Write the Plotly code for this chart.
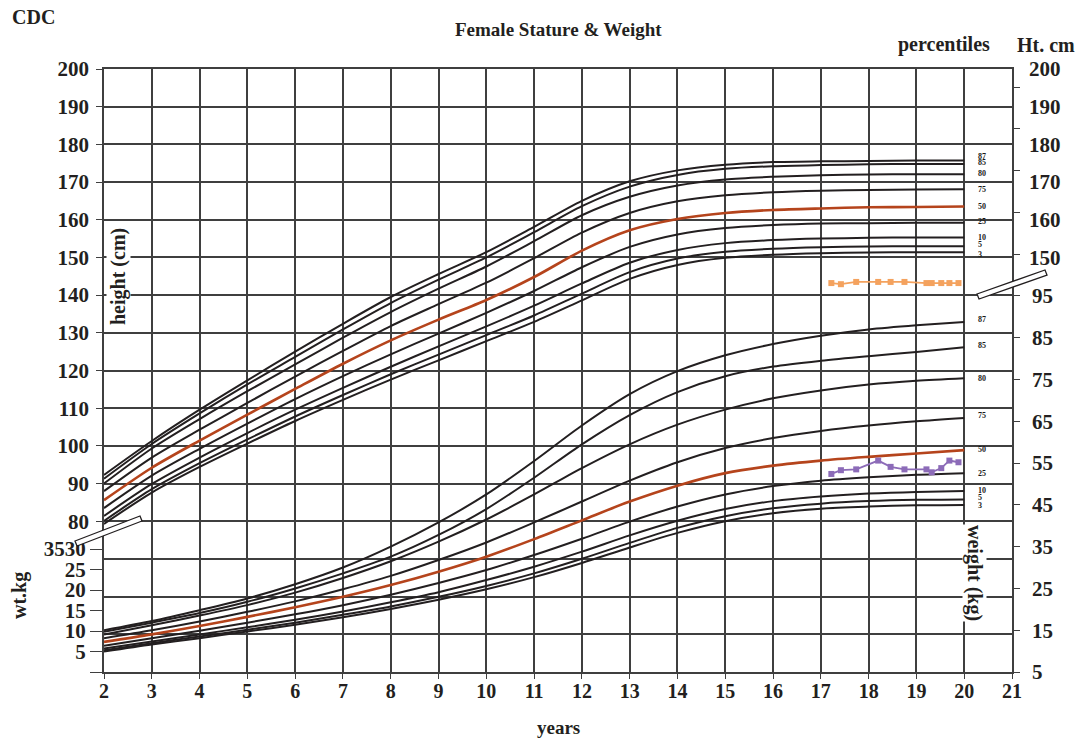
import plotly.graph_objects as go

# ---------------- data ----------------
AGES = list(range(2, 21))
PCT_LABELS = ["87", "85", "80", "75", "50", "25", "10", "5", "3"]

# stature (cm) percentile curves, ages 2..20
H87 = [92.3, 101.3, 109.6, 117.4, 125.0, 132.4, 139.5, 145.6, 151.4, 158.1, 165.0, 170.2, 173.1, 174.6, 175.3, 175.5, 175.6, 175.7, 175.7]
H85 = [91.3, 100.5, 108.6, 116.3, 123.6, 130.9, 137.9, 144.1, 150.0, 156.7, 163.6, 168.8, 171.9, 173.5, 174.2, 174.5, 174.7, 174.8, 174.8]
H80 = [90.0, 99.3, 107.1, 114.5, 121.6, 128.7, 135.5, 141.7, 147.6, 154.3, 161.2, 166.1, 169.1, 170.7, 171.4, 171.8, 172.0, 172.1, 172.1]
H75 = [88.0, 96.9, 104.3, 111.4, 118.4, 125.2, 131.8, 137.6, 143.3, 149.8, 156.6, 161.8, 164.9, 166.5, 167.3, 167.7, 167.9, 168.0, 168.1]
H50 = [85.6, 94.2, 101.4, 108.3, 115.1, 121.8, 128.0, 133.5, 138.7, 144.8, 151.8, 157.2, 160.2, 161.8, 162.6, 163.0, 163.3, 163.4, 163.5]
H25 = [83.5, 92.1, 99.2, 105.9, 112.4, 118.5, 124.3, 129.8, 135.3, 141.1, 147.4, 152.8, 156.1, 157.8, 158.6, 159.0, 159.1, 159.2, 159.2]
H10 = [81.4, 89.9, 96.9, 103.4, 109.6, 115.4, 121.0, 126.4, 131.7, 137.2, 143.1, 148.6, 152.0, 153.8, 154.6, 155.0, 155.2, 155.3, 155.3]
H5 = [80.1, 88.5, 95.4, 101.7, 107.8, 113.5, 119.0, 124.2, 129.4, 134.6, 140.4, 146.1, 149.7, 151.5, 152.3, 152.7, 152.9, 153.0, 153.0]
H3 = [79.3, 87.6, 94.4, 100.6, 106.6, 112.2, 117.6, 122.7, 127.8, 132.9, 138.6, 144.3, 148.0, 149.9, 150.7, 151.1, 151.3, 151.4, 151.4]

# weight (kg) percentile curves, ages 2..20
W87 = [15.0, 17.2, 19.8, 22.6, 26.0, 30.0, 35.0, 40.8, 47.5, 55.5, 64.0, 71.5, 77.0, 80.8, 83.5, 85.5, 87.0, 88.0, 88.8]
W85 = [14.6, 16.8, 19.1, 21.8, 25.0, 28.6, 32.6, 37.8, 44.0, 51.5, 59.5, 66.5, 72.0, 75.8, 78.1, 79.5, 80.6, 81.6, 82.7]
W80 = [14.0, 16.2, 18.5, 21.0, 24.0, 27.5, 31.5, 36.2, 41.5, 47.5, 53.8, 59.5, 64.2, 67.8, 70.5, 72.4, 73.8, 74.7, 75.3]
W75 = [13.1, 15.0, 17.1, 19.4, 21.9, 24.8, 28.0, 31.8, 36.0, 40.8, 45.8, 50.8, 55.2, 58.6, 61.0, 62.7, 64.0, 65.0, 65.8]
W50 = [12.2, 14.0, 16.0, 18.2, 20.5, 23.0, 25.8, 29.0, 32.6, 36.8, 41.3, 45.8, 49.6, 52.6, 54.4, 55.6, 56.5, 57.3, 58.1]
W25 = [11.3, 13.1, 14.9, 16.8, 18.8, 21.0, 23.5, 26.3, 29.4, 33.0, 36.9, 41.0, 44.6, 47.5, 49.5, 50.8, 51.6, 52.2, 52.6]
W10 = [10.6, 12.3, 14.0, 15.7, 17.5, 19.5, 21.7, 24.1, 27.0, 30.2, 33.8, 37.7, 41.2, 44.0, 45.9, 47.0, 47.7, 48.1, 48.3]
W5 = [10.2, 11.9, 13.5, 15.1, 16.8, 18.7, 20.7, 23.0, 25.6, 28.6, 32.1, 35.9, 39.5, 42.3, 44.2, 45.3, 45.9, 46.2, 46.3]
W3 = [9.9, 11.6, 13.1, 14.7, 16.3, 18.1, 20.1, 22.3, 24.8, 27.7, 31.1, 34.8, 38.3, 41.1, 43.0, 44.1, 44.6, 44.9, 45.0]

# patient measurements
VISIT_AGES = [17.22, 17.42, 17.74, 18.20, 18.46, 18.75, 19.21, 19.32, 19.52, 19.69, 19.88]
VISIT_HEIGHT = [143.2, 142.9, 143.5, 143.5, 143.5, 143.5, 143.2, 143.2, 143.2, 143.2, 143.2]
VISIT_WEIGHT = [52.4, 53.3, 53.5, 55.6, 54.1, 53.5, 53.5, 52.8, 53.8, 55.6, 55.2]

# axis ticks
X_TICKS = list(range(2, 22))
H_TICKS_LEFT = list(range(80, 201, 10))
H_TICKS_RIGHT = list(range(150, 201, 10))
W_TICKS_RIGHT = list(range(5, 146, 10))
W_TICKS_LEFT = [0, 5, 10, 15, 20, 25, 30]
W_TICKTEXT_LEFT = ["", "5", "10", "15", "20", "25", "3530"]
GRID_TICKS = list(range(40, 201, 10))

HEIGHT_CURVES = [H87, H85, H80, H75, H50, H25, H10, H5, H3]
WEIGHT_CURVES = [W87, W85, W80, W75, W50, W25, W10, W5, W3]
H_LABEL_SHIFT = [4, 1, 1, 0, 0, 1, 0, 2, -2]
W_LABEL_SHIFT = [2, 2, 0, 2, 1, 0, 1, 2, -1]

# ---------------- style ----------------
INK = "#231f20"
GRID = "#3f3f3f"
RUST = "#b5441c"
SERIF = "Liberation Serif"
L, R, T, B = 104, 69, 69, 67
W, H = 1081, 739
PW, PH = W - L - R, H - T - B


def px(x):
    return (x - L) / PW


def py(y):
    return (H - B - y) / PH


fig = go.Figure()

for lab, ys in zip(PCT_LABELS, HEIGHT_CURVES):
    fig.add_trace(go.Scatter(
        x=AGES, y=ys, mode="lines", yaxis="y",
        line=dict(color=RUST if lab == "50" else INK, width=2.6 if lab == "50" else 2,
                  shape="spline", smoothing=0.8),
        hoverinfo="skip", showlegend=False))

for lab, ys in zip(PCT_LABELS, WEIGHT_CURVES):
    fig.add_trace(go.Scatter(
        x=AGES, y=ys, mode="lines", yaxis="y2",
        line=dict(color=RUST if lab == "50" else INK, width=2.6 if lab == "50" else 2,
                  shape="spline", smoothing=0.8),
        hoverinfo="skip", showlegend=False))

fig.add_trace(go.Scatter(
    x=VISIT_AGES, y=VISIT_HEIGHT, mode="lines+markers", yaxis="y",
    line=dict(color="#f4a25e", width=1.8),
    marker=dict(symbol="square", size=6, color="#f4a25e"),
    showlegend=False))
fig.add_trace(go.Scatter(
    x=VISIT_AGES, y=VISIT_WEIGHT, mode="lines+markers", yaxis="y2",
    line=dict(color="#8c6bb8", width=1.8),
    marker=dict(symbol="square", size=6, color="#8c6bb8"),
    showlegend=False))

# invisible anchors for label-only axes
for ax, yv in (("y3", 150), ("y4", 10), ("y5", 100)):
    fig.add_trace(go.Scatter(x=[2], y=[yv], yaxis=ax, mode="markers",
                             marker=dict(opacity=0), hoverinfo="skip", showlegend=False))

tickfont = dict(family=SERIF, size=21, color=INK, weight="bold")

fig.update_layout(
    width=W, height=H,
    margin=dict(l=L, r=R, t=T, b=B),
    paper_bgcolor="white", plot_bgcolor="white",
    xaxis=dict(range=[2, 21], tickvals=X_TICKS, showgrid=True, gridcolor=GRID, gridwidth=1.6,
               zeroline=False, showline=True, linecolor=GRID, linewidth=1.6, mirror=True,
               ticks="outside", ticklen=5, tickcolor=GRID, tickwidth=1.4,
               tickfont=dict(family=SERIF, size=20, color=INK, weight="bold"),
               ticklabelstandoff=-5),
    yaxis=dict(range=[40, 200], tickvals=H_TICKS_LEFT, showgrid=False, zeroline=False,
               showline=True, linecolor=GRID, linewidth=1.6,
               ticks="outside", ticklen=6, tickcolor=GRID, tickwidth=1.4,
               tickfont=tickfont, ticklabelstandoff=3),
    yaxis2=dict(range=[5, 5 + 603 / 4.178], overlaying="y", side="right",
                tickvals=W_TICKS_RIGHT,
                ticktext=[str(v) if v <= 95 else "" for v in W_TICKS_RIGHT],
                showgrid=False, zeroline=False, showline=True, linecolor=GRID, linewidth=1.6,
                ticks="outside", ticklen=6, tickcolor=GRID, tickwidth=1.4,
                tickfont=tickfont, ticklabelstandoff=8),
    yaxis3=dict(range=[40, 200], overlaying="y", side="right", tickvals=H_TICKS_RIGHT,
                showgrid=False, zeroline=False, showline=False, ticks="",
                tickfont=tickfont, ticklabelstandoff=16),
    yaxis4=dict(range=[0, 603 / 4.1], overlaying="y", side="left", tickvals=W_TICKS_LEFT,
                ticktext=W_TICKTEXT_LEFT, showgrid=False, zeroline=False, showline=False,
                ticks="outside", ticklen=13, tickcolor=GRID, tickwidth=1.4,
                tickfont=tickfont, ticklabelstandoff=0),
    yaxis5=dict(range=[40, 200], overlaying="y", side="left", tickvals=GRID_TICKS,
                showticklabels=False, showgrid=True, gridcolor=GRID, gridwidth=1.6,
                zeroline=False, showline=False, ticks=""),
)

ann = []
txt = dict(family=SERIF, size=20, color=INK, weight="bold")


def label(text, x, y, font=txt, **kw):
    d = dict(text=text, x=px(x), y=py(y), xref="paper", yref="paper", showarrow=False,
             xanchor="center", yanchor="middle", font=font)
    d.update(kw)
    ann.append(d)


label("CDC", 33, 17)
label("Female Stature &amp; Weight", 558, 30, font=dict(txt, size=19))
label("percentiles", 944, 45)
label("Ht. cm", 1046, 45)
label("years", 558, 727, font=dict(txt, size=19))
label("wt.kg", 19, 596, textangle=-90)
label("height (cm)", 118, 277, textangle=-90, bgcolor="white", borderpad=0)
label("weight (kg)", 975, 573, textangle=90, bgcolor="white", borderpad=0)

small = dict(family=SERIF, size=8, color="#1a1a1a", weight="bold")
for lab, ys, sh in zip(PCT_LABELS, HEIGHT_CURVES, H_LABEL_SHIFT):
    ann.append(dict(text=lab, x=20, y=ys[-1], xref="x", yref="y", xanchor="left", yanchor="middle",
                    xshift=13, yshift=sh, showarrow=False, font=small, borderpad=0))
for lab, ys, sh in zip(PCT_LABELS, WEIGHT_CURVES, W_LABEL_SHIFT):
    ann.append(dict(text=lab, x=20, y=ys[-1], xref="x", yref="y2", xanchor="left", yanchor="middle",
                    xshift=13, yshift=sh, showarrow=False, font=small, borderpad=0))
fig.update_layout(annotations=ann)


def brk(pts):
    d = "M " + " L ".join(f"{px(a):.5f},{py(b):.5f}" for a, b in pts) + " Z"
    return dict(type="path", path=d, xref="paper", yref="paper", fillcolor="white",
                line=dict(color=INK, width=1.3), layer="above")


fig.update_layout(shapes=[
    brk([(75, 541), (140, 516), (142, 521), (77, 546)]),
    brk([(977, 294), (1045, 270), (1047, 275), (979, 299)]),
])

fig.write_html("out.html", config={"displayModeBar": False},
               post_script="document.body.style.margin='0';document.body.style.overflow='hidden';")
